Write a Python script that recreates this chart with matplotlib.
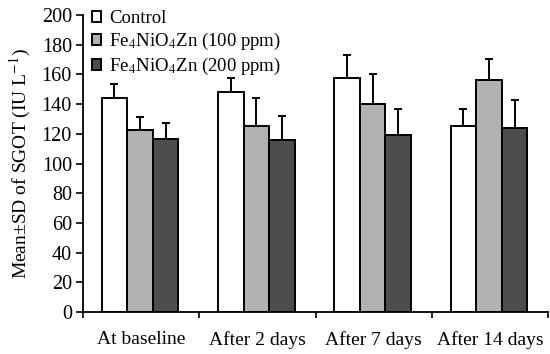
import numpy as np
import matplotlib
matplotlib.use("Agg")
import matplotlib.pyplot as plt

groups = ["At baseline", "After 2 days", "After 7 days", "After 14 days"]
series = ["Control", "Fe$_4$NiO$_4$Zn (100 ppm)", "Fe$_4$NiO$_4$Zn (200 ppm)"]
control = [144, 148, 157.5, 125.5]
control_sd = [9.5, 9.5, 15.5, 11]
ppm100 = [122.5, 125.5, 140, 156]
ppm100_sd = [8.5, 18.5, 20.5, 14.5]
ppm200 = [116.5, 116, 119.5, 124]
ppm200_sd = [10.5, 16, 17.5, 18.5]

plt.rcParams['font.family'] = ['Liberation Serif', 'DejaVu Serif']
plt.rcParams['mathtext.fontset'] = 'stix'

fig = plt.figure(figsize=(5.5, 3.54), dpi=100)
ax = fig.add_axes([0.151, 0.1186, 0.846, 0.839])

x = np.arange(len(groups)) + 0.5
w = 0.22
colors = ['white', '#b2b2b2', '#4d4d4d']
data = [(control, control_sd), (ppm100, ppm100_sd), (ppm200, ppm200_sd)]
for i, (vals, sd) in enumerate(data):
    pos = x + (i - 1) * w - 0.01
    ax.bar(pos, vals, w, color=colors[i], edgecolor='black', linewidth=1.4,
           label=series[i], zorder=2)
    ax.errorbar(pos, vals, yerr=[np.zeros(len(sd)), sd], fmt='none',
                ecolor='black', elinewidth=1.4, capsize=3.2, capthick=1.4, zorder=1)

ax.set_xlim(0, 4)
ax.set_ylim(0, 200)
ax.set_yticks(range(0, 201, 20))
ax.set_xticks([0, 1, 2, 3, 4])
ax.set_xticklabels([])
ax.set_xticks(x, minor=True)
ax.set_xticklabels(groups, minor=True, fontsize=14)
ax.tick_params(axis='x', which='minor', length=0, pad=14)
ax.tick_params(axis='x', which='major', length=4, width=1.2, direction='out')
ax.tick_params(axis='y', length=5, width=1.2, direction='out', labelsize=14.5, pad=3)
for s in ['top', 'right']:
    ax.spines[s].set_visible(False)
for s in ['left', 'bottom']:
    ax.spines[s].set_linewidth(1.3)

ax.set_ylabel("Mean±SD of SGOT (IU L$^{-1}$)", fontsize=14)
ax.yaxis.set_label_coords(-0.108, 0.5)

ax.legend(loc='upper left', bbox_to_anchor=(-0.005, 1.055), frameon=False, fontsize=13.5,
          handlelength=0.5, handleheight=0.5, handletextpad=0.4, labelspacing=0.22,
          borderaxespad=0.2)

fig.savefig("out.png", dpi=100)
